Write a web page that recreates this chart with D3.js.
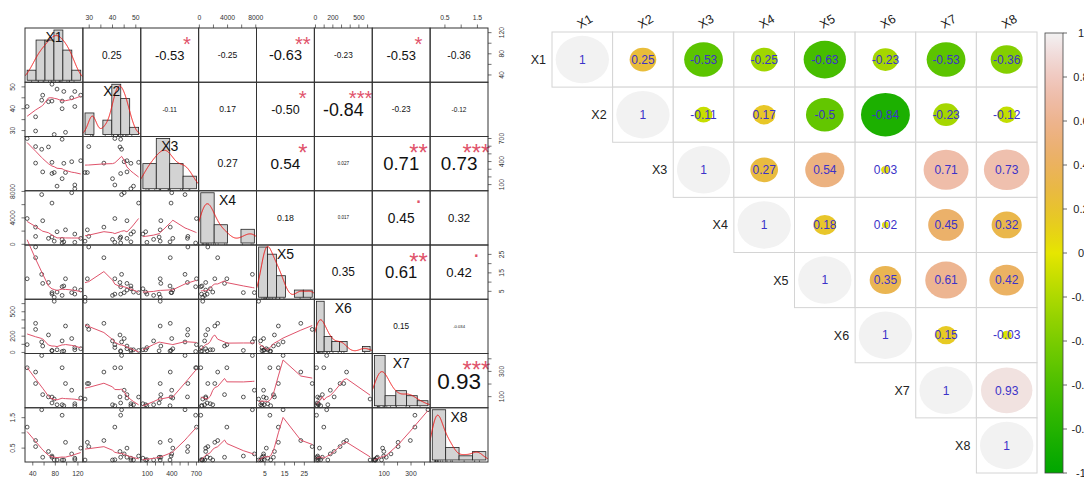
<!DOCTYPE html>
<html>
<head>
<meta charset="utf-8">
<script src="https://cdn.jsdelivr.net/npm/d3@7"></script>
<style>
  body { margin: 0; background: #ffffff; }
  svg { display: block; font-family: "Liberation Sans", Arial, sans-serif; }
</style>
</head>
<body>
<svg id="chart" width="1084" height="477"></svg>
<script>
// ---- observations (18 samples, 8 variables) ----
const varNames = ["X1", "X2", "X3", "X4", "X5", "X6", "X7", "X8"];
const X1 = [30, 45, 45, 55.8, 57.6, 67.8, 74, 74, 78, 83, 92, 92, 95, 98, 109, 114.5, 114.5, 125];
const X2 = [41, 29.8, 36.3, 43.9, 46.2, 43.2, 51.2, 43.5, 28.2, 49, 40, 43.5, 47.9, 29.2, 45, 47.9, 41, 46.2];
const X3 = [700, 595, 380, 560, 265, 590, 390, 244, 257, 80, 177, 690, 377, 257, 398, 46, 95, 411];
const X4 = [3900, 1200, 2600, 7520, 3570, 900, 6240, 1100, 480, 1900, 750, 200, 370, 2190, 7800, 1550, 300, 900];
const X5 = [11.8, 29, 23.2, 14.2, 9.3, 9.8, 4.3, 3.5, 1.8, 4.6, 2.8, 7.5, 7.9, 11.8, 4.3, 6.4, 3.5, 5.7];
const X6 = [96, 283, 358, 129, 79, 215, 25, 20, 629, 33, 142, 12, 17, 325, 171, 33, 60, 46];
const X7 = [329, 204, 295, 426, 116, 98, 97, 50, 81, 36, 36, 329, 28, 204, 151, 44, 28, 89];
const X8 = [1.19, 0.55, 0.75, 1.76, 0.2, 0.39, 0.24, 0.2, 0.11, 0.11, 0.11, 1.58, 0.11, 0.69, 0.31, 0.17, 0.12, 0.5];

// ---- pairwise correlations (upper triangle, row-major) ----
const corrPairs = [
  [0,1], [0,2], [0,3], [0,4], [0,5], [0,6], [0,7],
  [1,2], [1,3], [1,4], [1,5], [1,6], [1,7],
  [2,3], [2,4], [2,5], [2,6], [2,7],
  [3,4], [3,5], [3,6], [3,7],
  [4,5], [4,6], [4,7],
  [5,6], [5,7],
  [6,7]
];
const corrValues = [
  0.25, -0.53, -0.25, -0.63, -0.23, -0.53, -0.36,
  -0.11, 0.17, -0.50, -0.84, -0.23, -0.12,
  0.27, 0.54, 0.027, 0.71, 0.73,
  0.18, 0.017, 0.45, 0.32,
  0.35, 0.61, 0.42,
  0.15, -0.034,
  0.93
];
const corrText = [
  "0.25", "-0.53", "-0.25", "-0.63", "-0.23", "-0.53", "-0.36",
  "-0.11", "0.17", "-0.50", "-0.84", "-0.23", "-0.12",
  "0.27", "0.54", "0.027", "0.71", "0.73",
  "0.18", "0.017", "0.45", "0.32",
  "0.35", "0.61", "0.42",
  "0.15", "-0.034",
  "0.93"
];
const corrSignif = [
  "", "*", "", "**", "", "*", "",
  "", "", "*", "***", "", "",
  "", "*", "", "**", "***",
  "", "", ".", "",
  "", "**", ".",
  "", "",
  "***"
];

// ---- axis ticks of the scatterplot matrix ----
const axisTicks = [
  [40, 60, 80, 100, 120],
  [30, 35, 40, 45, 50],
  [100, 200, 300, 400, 500, 600, 700],
  [0, 2000, 4000, 6000, 8000],
  [5, 10, 15, 20, 25],
  [0, 100, 200, 300, 400, 500, 600],
  [100, 200, 300, 400],
  [0.5, 1.0, 1.5]
];
const axisLabels = [
  ["40", "80", "120"],
  ["30", "40", "50"],
  ["100", "400", "700"],
  ["0", "4000", "8000"],
  ["5", "15", "25"],
  ["0", "200", "500"],
  ["100", "300"],
  ["0.5", "1.5"]
];
const colorbarTicks = [1, 0.8, 0.6, 0.4, 0.2, 0, -0.2, -0.4, -0.6, -0.8, -1];

// ------------------------------------------------------------------
const svg = d3.select("#chart");
const data = [X1, X2, X3, X4, X5, X6, X7, X8];
const nv = varNames.length;

// ---------- left: scatterplot matrix ----------
const P = { left: 25, top: 28, right: 488, bottom: 462 };
const cw = (P.right - P.left) / nv, ch = (P.bottom - P.top) / nv;
const padded = (v) => { const [a, b] = d3.extent(v); const p = (b - a) * 0.04; return [a - p, b + p]; };
const sx = data.map((v, k) => d3.scaleLinear().domain(padded(v)).range([P.left + k * cw, P.left + (k + 1) * cw]));
const sy = data.map((v, k) => d3.scaleLinear().domain(padded(v)).range([P.top + (k + 1) * ch, P.top + k * ch]));

const defs = svg.append("defs");
const left = svg.append("g");

// robust locally weighted regression (lowess, f = 2/3, iter = 3)
function lowess(xIn, yIn, f = 2 / 3, iter = 3) {
  const idx = d3.range(xIn.length).sort((a, b) => xIn[a] - xIn[b]);
  const x = idx.map(i => xIn[i]), y = idx.map(i => yIn[i]);
  const n = x.length;
  const ns = Math.max(2, Math.min(n, Math.floor(f * n + 1e-7)));
  const range = x[n - 1] - x[0];
  let rw = new Array(n).fill(1);
  const ys = new Array(n).fill(0);
  for (let it = 0; it <= iter; it++) {
    let nleft = 0, nright = ns - 1;
    for (let i = 0; i < n; i++) {
      while (nright < n - 1 && x[i] - x[nleft] > x[nright + 1] - x[i]) { nleft++; nright++; }
      const xs = x[i];
      const h = Math.max(xs - x[nleft], x[nright] - xs);
      const h9 = 0.999 * h, h1 = 0.001 * h;
      const w = new Array(n).fill(0);
      let a = 0, j = nleft;
      while (j < n) {
        const r = Math.abs(x[j] - xs);
        if (r <= h9) {
          w[j] = r <= h1 ? 1 : Math.pow(1 - Math.pow(r / h, 3), 3);
          if (it > 0) w[j] *= rw[j];
          a += w[j];
        } else if (x[j] > xs) break;
        j++;
      }
      const nrt = j - 1;
      if (a <= 0) { ys[i] = y[i]; continue; }
      for (let k = nleft; k <= nrt; k++) w[k] /= a;
      if (h > 0) {
        let m = 0; for (let k = nleft; k <= nrt; k++) m += w[k] * x[k];
        let b = xs - m, c = 0;
        for (let k = nleft; k <= nrt; k++) c += w[k] * (x[k] - m) * (x[k] - m);
        if (Math.sqrt(c) > 0.001 * range) {
          b /= c;
          for (let k = nleft; k <= nrt; k++) w[k] *= (b * (x[k] - m) + 1);
        }
      }
      let s = 0; for (let k = nleft; k <= nrt; k++) s += w[k] * y[k];
      ys[i] = s;
    }
    if (it === iter) break;
    const res = y.map((v, i) => Math.abs(v - ys[i]));
    const sorted = res.slice().sort((a, b) => a - b);
    const m1 = Math.floor(n / 2);
    const cmad = n % 2 === 0 ? 3 * (sorted[m1 - 1] + sorted[m1]) : 6 * sorted[m1];
    const sc = d3.mean(res);
    if (cmad < 1e-7 * sc) break;
    const c9 = 0.999 * cmad, c1 = 0.001 * cmad;
    rw = res.map(r => r <= c1 ? 1 : r <= c9 ? Math.pow(1 - Math.pow(r / cmad, 2), 2) : 0);
  }
  return x.map((v, i) => [v, ys[i]]);
}

// Gaussian kernel density with the nrd0 bandwidth
function kde(v) {
  const n = v.length;
  const s = d3.deviation(v);
  const iqr = d3.quantile(v, 0.75) - d3.quantile(v, 0.25);
  let lo = Math.min(s, iqr / 1.34);
  if (!(lo > 0)) lo = s || 1;
  const bw = 0.9 * lo * Math.pow(n, -0.2);
  const [a, b] = d3.extent(v);
  const from = a - 3 * bw, to = b + 3 * bw;
  return d3.range(512).map(i => {
    const x = from + (to - from) * i / 511;
    const d = d3.sum(v, xi => Math.exp(-0.5 * ((x - xi) / bw) ** 2)) / (n * bw * Math.sqrt(2 * Math.PI));
    return [x, d];
  });
}

// "pretty" break points, as used for histogram classes
function prettyBreaks(lo, up, ndiv) {
  const h = 1.5, h5 = 0.5 + 1.5 * h;
  let cell = Math.max(Math.abs(lo), Math.abs(up));
  const dx = up - lo;
  const small = dx < cell * (1 + 1 / (1 + h)) * Math.max(1, ndiv) * Number.EPSILON * 3;
  if (!small) { cell = dx; if (ndiv > 1) cell /= ndiv; }
  const base = Math.pow(10, Math.floor(Math.log10(cell)));
  let unit = base;
  if (2 * base - cell < h * (cell - unit)) {
    unit = 2 * base;
    if (5 * base - cell < h5 * (cell - unit)) {
      unit = 5 * base;
      if (10 * base - cell < h * (cell - unit)) unit = 10 * base;
    }
  }
  let ns = Math.floor(lo / unit + 1e-10), nu = Math.ceil(up / unit - 1e-10);
  while (ns * unit > lo + 1e-10 * unit) ns--;
  while (nu * unit < up - 1e-10 * unit) nu++;
  return d3.range(ns, nu + 1).map(i => +(i * unit).toPrecision(12));
}

// Freedman-Diaconis classes with right-closed bins, as densities
function histogram(v) {
  const [a, b] = d3.extent(v);
  const k = d3.thresholdFreedmanDiaconis(v, a, b);
  const br = prettyBreaks(a, b, k);
  const n = v.length;
  const bins = [];
  for (let i = 0; i < br.length - 1; i++) {
    const c = v.filter(x => (i === 0 ? x >= br[i] : x > br[i]) && x <= br[i + 1]).length;
    bins.push({ x0: br[i], x1: br[i + 1], density: c / (n * (br[i + 1] - br[i])) });
  }
  return bins;
}

for (let i = 0; i < nv; i++) {
  for (let j = 0; j < nv; j++) {
    const x0 = P.left + j * cw, y0 = P.top + i * ch;
    const g = left.append("g");
    if (i === j) {
      // diagonal: histogram, density curve, rug, variable name
      const v = data[i];
      const bins = histogram(v);
      const b0 = bins[0].x0, b1 = bins[bins.length - 1].x1;
      const hx = d3.scaleLinear().domain([b0 - 0.04 * (b1 - b0), b1 + 0.04 * (b1 - b0)]).range([x0, x0 + cw]);
      const maxD = d3.max(bins, b => b.density);
      const hy = d3.scaleLinear().domain([-0.04 * maxD, 1.04 * maxD]).range([y0 + ch, y0]);
      const clipId = "clip" + i;
      defs.append("clipPath").attr("id", clipId).append("rect")
        .attr("x", x0).attr("y", y0).attr("width", cw).attr("height", ch);
      const cg = g.append("g").attr("clip-path", `url(#${clipId})`);
      cg.selectAll("rect").data(bins).join("rect")
        .attr("x", b => hx(b.x0)).attr("width", b => hx(b.x1) - hx(b.x0))
        .attr("y", b => hy(b.density)).attr("height", b => hy(0) - hy(b.density))
        .attr("fill", "#d3d3d3").attr("stroke", "#222").attr("stroke-width", 0.8);
      cg.append("path").datum(kde(v))
        .attr("d", d3.line().x(d => hx(d[0])).y(d => hy(d[1])))
        .attr("fill", "none").attr("stroke", "#ee1111").attr("stroke-width", 1);
      cg.selectAll("line.rug").data(v).join("line").attr("class", "rug")
        .attr("x1", d => hx(d)).attr("x2", d => hx(d))
        .attr("y1", y0 + ch).attr("y2", y0 + ch - 0.03 * ch)
        .attr("stroke", "#222").attr("stroke-width", 0.7);
      const fs = 14;
      g.append("text").attr("x", x0 + cw / 2).attr("y", y0 + (1 - 0.8333) * ch + 0.36 * fs)
        .attr("text-anchor", "middle").attr("font-size", fs).attr("fill", "#111").text(varNames[i]);
    } else if (i > j) {
      // lower panels: scatter with lowess smoother
      const xs = data[j], ys = data[i];
      g.selectAll("circle").data(xs).join("circle")
        .attr("cx", d => sx[j](d)).attr("cy", (d, k) => sy[i](ys[k]))
        .attr("r", 1.9).attr("fill", "none").attr("stroke", "#222").attr("stroke-width", 0.75);
      g.append("path").datum(lowess(xs, ys))
        .attr("d", d3.line().x(d => sx[j](d[0])).y(d => sy[i](d[1])))
        .attr("fill", "none").attr("stroke", "#DF536B").attr("stroke-width", 1);
    } else {
      // upper panels: correlation coefficient and significance
      const k = corrPairs.findIndex(p => p[0] === i && p[1] === j);
      const r = corrValues[k], txt = corrText[k];
      const probe = g.append("text").attr("font-size", 100).text(txt);
      const w100 = probe.node().getComputedTextLength();
      probe.remove();
      const base = 0.8 * cw / (w100 / 100);
      const fsNum = base * (Math.abs(r) + 0.3) / 1.3;
      g.append("text").attr("x", x0 + 0.5 * cw).attr("y", y0 + 0.5 * ch + 0.36 * fsNum)
        .attr("text-anchor", "middle").attr("font-size", fsNum).attr("fill", "#111").text(txt);
      const sig = corrSignif[k];
      if (sig) {
        const off = sig === "." ? 0.05 : 0.585;
        g.append("text").attr("x", x0 + 0.8 * cw).attr("y", y0 + 0.2 * ch + off * base)
          .attr("text-anchor", "middle").attr("font-size", base).attr("fill", "#DF536B").text(sig);
      }
    }
    g.append("rect").attr("x", x0).attr("y", y0).attr("width", cw).attr("height", ch)
      .attr("fill", "none").attr("stroke", "#333").attr("stroke-width", 1);
  }
}

// outer axes of the matrix, alternating sides
const axisFs = 6.8, tickLen = 3.5, axisCol = "#333";
for (let k = 0; k < nv; k++) {
  const lab = axisLabels[k];
  const textOf = (t) => (Number.isInteger(t) ? String(t) : t.toFixed(1));
  const labelled = (t) => lab.includes(textOf(t));
  const ax = left.append("g");
  const topSide = k % 2 === 1;
  axisTicks[k].forEach(t => {
    const x = sx[k](t), y = sy[k](t);
    const yEdge = topSide ? P.top : P.bottom, ySign = topSide ? -1 : 1;
    const xEdge = topSide ? P.left : P.right, xSign = topSide ? -1 : 1;
    ax.append("line").attr("x1", x).attr("x2", x).attr("y1", yEdge).attr("y2", yEdge + ySign * tickLen)
      .attr("stroke", axisCol).attr("stroke-width", 0.7);
    ax.append("line").attr("x1", xEdge).attr("x2", xEdge + xSign * tickLen).attr("y1", y).attr("y2", y)
      .attr("stroke", axisCol).attr("stroke-width", 0.7);
    if (labelled(t)) {
      ax.append("text").attr("x", x).attr("y", topSide ? P.top - 8.5 : P.bottom + 13.5)
        .attr("text-anchor", "middle").attr("font-size", axisFs).attr("fill", axisCol).text(textOf(t));
      ax.append("text").attr("transform", `translate(${topSide ? P.left - 10.5 : P.right + 16},${y}) rotate(-90)`)
        .attr("text-anchor", "middle").attr("font-size", axisFs).attr("fill", axisCol).text(textOf(t));
    }
  });
}

// ---------- right: correlation circles (upper triangle) ----------
const C = { left: 552, top: 32, right: 1037, bottom: 473 };
const gx = d3.scaleBand().domain(varNames).range([C.left, C.right]);
const gy = d3.scaleBand().domain(varNames).range([C.top, C.bottom]);

// terrain colour ramp over [-1, 1]
function terrain(t) {
  let h, s, v;
  if (t <= 0) { const u = t + 1; h = 4 / 12 - (2 / 12) * u; s = 1; v = 0.65 + 0.25 * u; }
  else { h = (2 / 12) * (1 - t); s = 1 - t; v = 0.9 + 0.05 * t; }
  const hh = h * 6, i = Math.floor(hh) % 6, f = hh - Math.floor(hh);
  const p = v * (1 - s), q = v * (1 - f * s), tt = v * (1 - (1 - f) * s);
  const rgb = [[v, tt, p], [q, v, p], [p, v, tt], [p, q, v], [tt, p, v], [v, p, q]][i];
  return d3.rgb(rgb[0] * 255, rgb[1] * 255, rgb[2] * 255).formatHex();
}

const cells = [];
for (let i = 0; i < nv; i++) {
  cells.push({ r: varNames[i], c: varNames[i], v: 1 });
  for (let j = i + 1; j < nv; j++) {
    const k = corrPairs.findIndex(p => p[0] === i && p[1] === j);
    cells.push({ r: varNames[i], c: varNames[j], v: corrValues[k] });
  }
}
const right = svg.append("g");
right.selectAll("rect.cell").data(cells).join("rect").attr("class", "cell")
  .attr("x", d => gx(d.c)).attr("y", d => gy(d.r))
  .attr("width", gx.bandwidth()).attr("height", gy.bandwidth())
  .attr("fill", "#fff").attr("stroke", "#d4d4d4").attr("stroke-width", 1);
right.selectAll("ellipse").data(cells).join("ellipse")
  .attr("cx", d => gx(d.c) + gx.bandwidth() / 2).attr("cy", d => gy(d.r) + gy.bandwidth() / 2)
  .attr("rx", d => 0.44 * gx.bandwidth() * Math.sqrt(Math.abs(d.v)))
  .attr("ry", d => 0.43 * gy.bandwidth() * Math.sqrt(Math.abs(d.v)))
  .attr("fill", d => terrain(d.v));
right.selectAll("text.coef").data(cells).join("text").attr("class", "coef")
  .attr("x", d => gx(d.c) + gx.bandwidth() / 2).attr("y", d => gy(d.r) + gy.bandwidth() / 2 + 4.3)
  .attr("text-anchor", "middle").attr("font-size", 12).attr("fill", "#3c32c8")
  .text(d => String(Math.round(d.v * 100) / 100));
// row labels beside the diagonal
right.selectAll("text.rowlab").data(varNames).join("text").attr("class", "rowlab")
  .attr("x", d => gx(d) - 6).attr("y", d => gy(d) + gy.bandwidth() / 2 + 4.5)
  .attr("text-anchor", "end").attr("font-size", 12.5).attr("fill", "#222").text(d => d);
// column labels along the top
right.selectAll("text.collab").data(varNames).join("text").attr("class", "collab")
  .attr("transform", d => `translate(${gx(d) + gx.bandwidth() / 2 - 2},${C.top - 3}) rotate(-30)`)
  .attr("text-anchor", "start").attr("font-size", 12.5).attr("fill", "#222").text(d => d);

// colour legend
const CB = { x: 1045, w: 18, top: 33, bottom: 473 };
const cbScale = d3.scaleLinear().domain([1, -1]).range([CB.top, CB.bottom]);
const grad = defs.append("linearGradient").attr("id", "cbgrad").attr("x1", 0).attr("x2", 0).attr("y1", 0).attr("y2", 1);
d3.range(41).forEach(i => {
  const t = 1 - i / 20;
  grad.append("stop").attr("offset", `${(i / 40) * 100}%`).attr("stop-color", terrain(t));
});
right.append("rect").attr("x", CB.x).attr("y", CB.top).attr("width", CB.w).attr("height", CB.bottom - CB.top)
  .attr("fill", "url(#cbgrad)").attr("stroke", "#444").attr("stroke-width", 0.8);
colorbarTicks.forEach(t => {
  const y = cbScale(t);
  right.append("line").attr("x1", CB.x + CB.w).attr("x2", CB.x + CB.w + 4).attr("y1", y).attr("y2", y)
    .attr("stroke", "#444").attr("stroke-width", 0.8);
  right.append("text").attr("x", 1081).attr("y", y + 4).attr("text-anchor", "middle")
    .attr("font-size", 11).attr("fill", "#222").text(String(t));
});
</script>
</body>
</html>
